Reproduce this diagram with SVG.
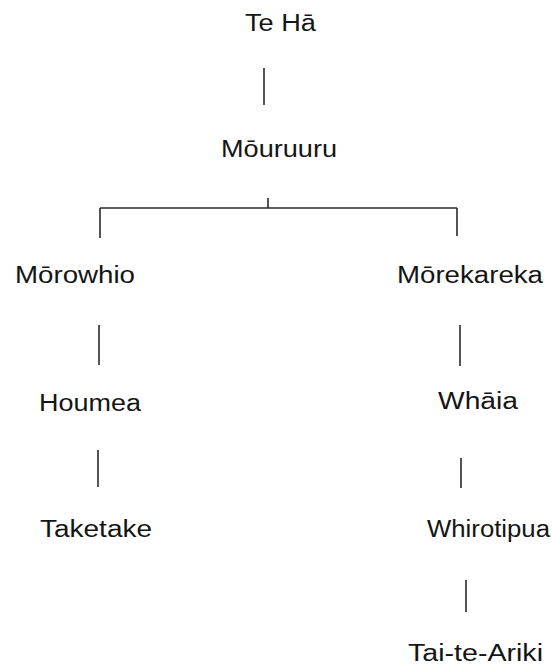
<svg xmlns="http://www.w3.org/2000/svg" width="552" height="669" viewBox="0 0 552 669">
  <style>
    .lbl { font-family: "Liberation Sans", Arial, sans-serif; font-size: 23px; fill: #151515; }
    .ln { stroke: #2a2a2a; stroke-width: 1.6; fill: none; stroke-linecap: butt; }
  </style>
  <rect width="552" height="669" fill="#ffffff"/>

  <g id="connectors">
    <line class="ln" x1="264" y1="68" x2="264" y2="105"/>
    <line class="ln" x1="268" y1="198" x2="268" y2="208"/>
    <line class="ln" x1="100" y1="208" x2="457" y2="208"/>
    <line class="ln" x1="100" y1="208" x2="100" y2="238"/>
    <line class="ln" x1="457" y1="208" x2="457" y2="236"/>
    <line class="ln" x1="99" y1="325" x2="99" y2="365"/>
    <line class="ln" x1="98" y1="450" x2="98" y2="487"/>
    <line class="ln" x1="460" y1="325" x2="460" y2="366"/>
    <line class="ln" x1="461" y1="458" x2="461" y2="488"/>
    <line class="ln" x1="466" y1="580" x2="466" y2="612"/>
  </g>

  <g id="te-ha"><text class="lbl" x="245" y="31" textLength="71" lengthAdjust="spacingAndGlyphs">Te Hā</text></g>
  <g id="mouruuru"><text class="lbl" x="221" y="157" textLength="116" lengthAdjust="spacingAndGlyphs">Mōuruuru</text></g>
  <g id="morowhio"><text class="lbl" x="15" y="283" textLength="120" lengthAdjust="spacingAndGlyphs">Mōrowhio</text></g>
  <g id="morekareka"><text class="lbl" x="397" y="283" textLength="146" lengthAdjust="spacingAndGlyphs">Mōrekareka</text></g>
  <g id="houmea"><text class="lbl" x="39" y="411" textLength="102" lengthAdjust="spacingAndGlyphs">Houmea</text></g>
  <g id="whaia"><text class="lbl" x="438" y="409" textLength="80" lengthAdjust="spacingAndGlyphs">Whāia</text></g>
  <g id="taketake"><text class="lbl" x="40" y="537" textLength="112" lengthAdjust="spacingAndGlyphs">Taketake</text></g>
  <g id="whirotipua"><text class="lbl" x="427" y="537" textLength="123" lengthAdjust="spacingAndGlyphs">Whirotipua</text></g>
  <g id="tai-te-ariki"><text class="lbl" x="408" y="661" textLength="135" lengthAdjust="spacingAndGlyphs">Tai-te-Ariki</text></g>
</svg>
